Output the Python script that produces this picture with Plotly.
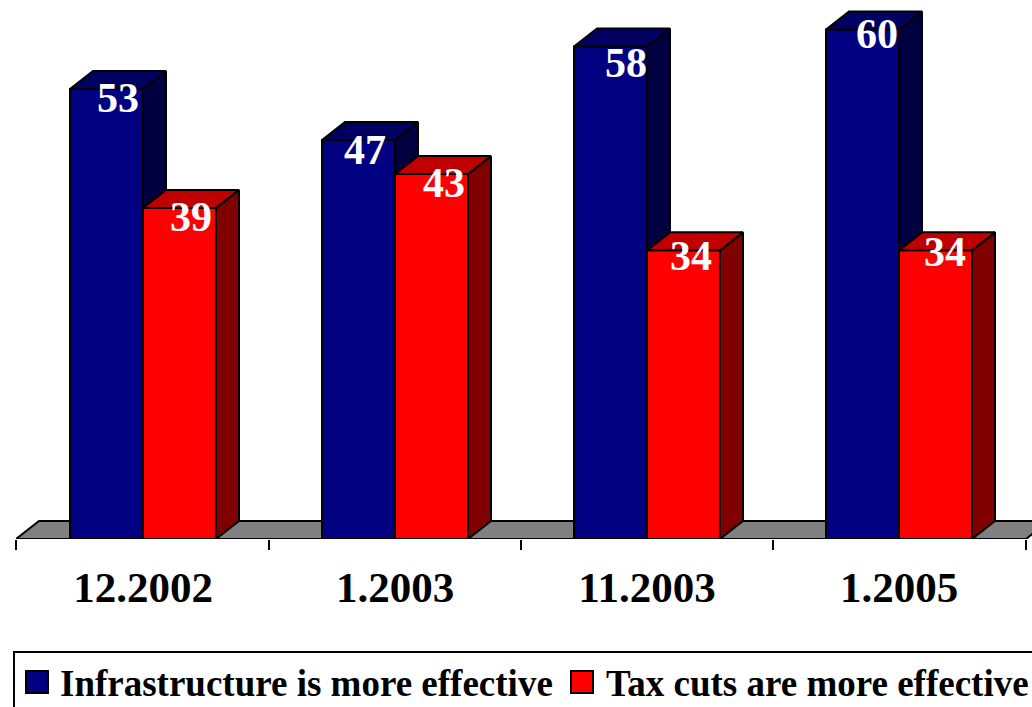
import plotly.graph_objects as go

categories = ["12.2002", "1.2003", "11.2003", "1.2005"]
infrastructure = [53, 47, 58, 60]
tax_cuts = [39, 43, 34, 34]
series_names = ["Infrastructure is more effective", "Tax cuts are more effective"]

# label nudges in pixels, relative to the bar's top centre (styling, not data)
INFRA_NUDGE = [(11, -9), (6, -10), (15, -16), (14, -4)]
TAX_NUDGE = [(11, -9), (12, -9), (7, -6), (9, -2)]

W, H = 1032, 707
BASE_PX, LEFT_PX = 539, 16
PX_PER_CAT, PX_PER_VAL = 252, 8.49
FIRST_CENTRE_PX = 143
PAD = (FIRST_CENTRE_PX - LEFT_PX) / PX_PER_CAT
BAR_W = 73 / PX_PER_CAT
DX, DY = 23 / PX_PER_CAT, 18 / PX_PER_VAL
FONT = "Liberation Serif"
EDGE = dict(color="black", width=2)


def px_x(px):
    return (px - LEFT_PX) / (W - LEFT_PX)


def px_y(py):
    return 1 - py / BASE_PX


fig = go.Figure()
xs = list(range(len(categories)))
x_end = len(xs) - 1 + PAD


def face(px, py, color):
    fig.add_trace(go.Scatter(x=px + px[:1], y=py + py[:1], mode="lines", fill="toself",
                             fillcolor=color, line=EDGE, hoverinfo="skip",
                             showlegend=False, cliponaxis=False))


fig.add_trace(go.Bar(name=series_names[0], x=xs, y=infrastructure, width=BAR_W, offset=-BAR_W,
                     marker=dict(color="#000080", line=EDGE), showlegend=False))
fig.add_trace(go.Bar(name=series_names[1], x=xs, y=tax_cuts, width=BAR_W, offset=0,
                     marker=dict(color="#FF0000", line=EDGE), showlegend=False))

for i, (b, r) in zip(xs, zip(infrastructure, tax_cuts)):
    low = min(b, r)
    # blue side (only the part above the red bar) and top
    face([i, i, i + DX, i + DX], [low, b, b + DY, low + DY], "#000040")
    face([i - BAR_W, i, i + DX, i - BAR_W + DX], [b, b, b + DY, b + DY], "#000060")
    # red side and top
    face([i + BAR_W, i + BAR_W + DX, i + BAR_W + DX, i + BAR_W], [0, DY, r + DY, r], "#800000")
    face([i, i + BAR_W, i + BAR_W + DX, i + DX], [r, r, r + DY, r + DY], "#C00000")

# baseline
fig.add_trace(go.Scatter(x=[-PAD, x_end], y=[0, 0], mode="lines", line=EDGE,
                         hoverinfo="skip", showlegend=False, cliponaxis=False))

annotations = []
for i in xs:
    for val, nudge, sign in ((infrastructure[i], INFRA_NUDGE[i], -1), (tax_cuts[i], TAX_NUDGE[i], 1)):
        annotations.append(dict(x=i + sign * BAR_W / 2, y=val, xref="x", yref="y", text=f"<b>{val}</b>",
                                showarrow=False, xshift=nudge[0], yshift=nudge[1],
                                font=dict(family=FONT, size=42, color="white"),
                                xanchor="center", yanchor="middle"))

# legend text
for txt, px in zip(series_names, (58, 604)):
    annotations.append(dict(x=px_x(px), y=px_y(683), xref="paper", yref="paper", text=f"<b>{txt}</b>",
                            showarrow=False, xanchor="left", yanchor="middle",
                            font=dict(family=FONT, size=37, color="black")))

shapes = [
    # floor
    dict(type="path", xref="x", yref="y", layer="below", fillcolor="#808080", line=EDGE,
         path=f"M {-PAD} 0 L {-PAD + DX} {DY} L {x_end + DX} {DY} L {x_end} 0 Z"),
    # legend box and swatches
    dict(type="rect", xref="paper", yref="paper", x0=px_x(14), x1=px_x(1100), y0=px_y(760), y1=px_y(652),
         line=EDGE, fillcolor="white"),
    dict(type="rect", xref="paper", yref="paper", x0=px_x(26), x1=px_x(48), y0=px_y(693), y1=px_y(671),
         line=EDGE, fillcolor="#000080"),
    dict(type="rect", xref="paper", yref="paper", x0=px_x(571), x1=px_x(593), y0=px_y(693), y1=px_y(671),
         line=EDGE, fillcolor="#FF0000"),
]

minor_ticks = [-PAD] + [i + 0.5 for i in xs[:-1]] + [x_end]

fig.update_layout(
    width=W, height=H, barmode="overlay", showlegend=False,
    margin=dict(l=LEFT_PX, r=0, t=0, b=H - BASE_PX, autoexpand=False),
    paper_bgcolor="white", plot_bgcolor="white",
    annotations=annotations, shapes=shapes,
    xaxis=dict(range=[-PAD, -PAD + (W - LEFT_PX) / PX_PER_CAT], tickmode="array", tickvals=xs,
               ticktext=categories, ticks="", showgrid=False, zeroline=False, showline=False,
               ticklabelstandoff=19,
               tickfont=dict(family=FONT, size=43, color="black", weight=700),
               minor=dict(tickmode="array", tickvals=minor_ticks,
                          ticks="outside", ticklen=10, tickwidth=2, tickcolor="black", showgrid=False)),
    yaxis=dict(range=[0, BASE_PX / PX_PER_VAL], visible=False),
)

fig.write_html("out.html", config=dict(displayModeBar=False),
               post_script="document.body.style.margin='0';document.body.style.overflow='hidden';")
